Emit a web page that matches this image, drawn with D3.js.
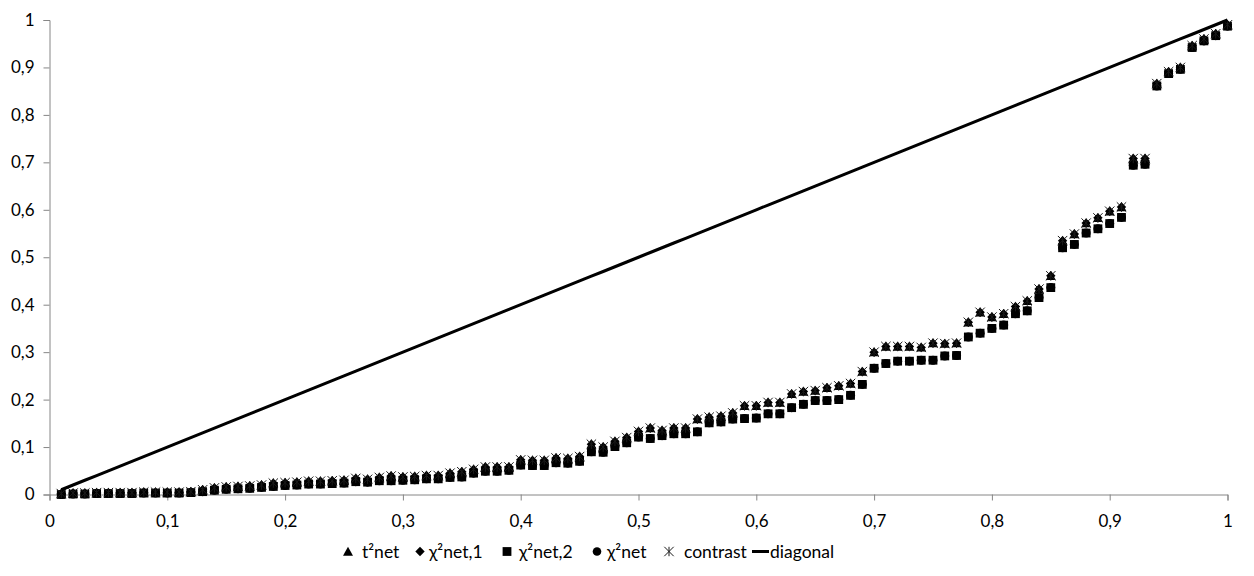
<!DOCTYPE html>
<html><head><meta charset="utf-8">
<script src="https://cdn.jsdelivr.net/npm/d3@7"></script>
<style>body{margin:0;background:#fff}text{font-family:Lato,"Open Sans",sans-serif}</style>
</head><body>
<svg id="chart" width="1254" height="576"></svg>
<script>
const xValues = [0.01,0.02,0.03,0.04,0.05,0.06,0.07,0.08,0.09,0.10,0.11,0.12,0.13,0.14,0.15,0.16,0.17,0.18,0.19,0.20,
0.21,0.22,0.23,0.24,0.25,0.26,0.27,0.28,0.29,0.30,0.31,0.32,0.33,0.34,0.35,0.36,0.37,0.38,0.39,0.40,
0.41,0.42,0.43,0.44,0.45,0.46,0.47,0.48,0.49,0.50,0.51,0.52,0.53,0.54,0.55,0.56,0.57,0.58,0.59,0.60,
0.61,0.62,0.63,0.64,0.65,0.66,0.67,0.68,0.69,0.70,0.71,0.72,0.73,0.74,0.75,0.76,0.77,0.78,0.79,0.80,
0.81,0.82,0.83,0.84,0.85,0.86,0.87,0.88,0.89,0.90,0.91,0.92,0.93,0.94,0.95,0.96,0.97,0.98,0.99,1.00];

const t2net = [0.002,0.003,0.003,0.004,0.004,0.004,0.004,0.005,0.005,0.005,0.005,0.006,0.010,0.014,0.016,0.017,0.018,0.020,0.024,0.025,
0.026,0.028,0.028,0.029,0.030,0.034,0.032,0.036,0.039,0.037,0.038,0.040,0.040,0.045,0.048,0.053,0.058,0.058,0.058,0.073,
0.072,0.072,0.077,0.076,0.080,0.106,0.100,0.112,0.120,0.133,0.140,0.135,0.140,0.140,0.159,0.163,0.165,0.172,0.187,0.187,
0.194,0.194,0.212,0.217,0.219,0.225,0.229,0.234,0.259,0.300,0.312,0.312,0.312,0.310,0.319,0.318,0.319,0.363,0.384,0.374,
0.381,0.396,0.408,0.433,0.461,0.535,0.549,0.572,0.583,0.597,0.606,0.708,0.708,0.866,0.891,0.900,0.946,0.960,0.971,0.990];

const chi2net1 = [0.002,0.003,0.003,0.004,0.004,0.004,0.004,0.005,0.005,0.005,0.005,0.006,0.010,0.014,0.016,0.017,0.018,0.020,0.024,0.025,
0.026,0.028,0.028,0.029,0.030,0.034,0.032,0.036,0.039,0.037,0.038,0.040,0.040,0.045,0.048,0.053,0.058,0.058,0.058,0.073,
0.072,0.072,0.077,0.076,0.080,0.106,0.100,0.112,0.120,0.133,0.140,0.135,0.140,0.140,0.159,0.163,0.165,0.172,0.187,0.187,
0.194,0.194,0.212,0.217,0.219,0.225,0.229,0.234,0.259,0.300,0.312,0.312,0.312,0.310,0.319,0.318,0.319,0.363,0.384,0.374,
0.381,0.396,0.408,0.433,0.461,0.535,0.549,0.572,0.583,0.597,0.606,0.708,0.708,0.866,0.891,0.900,0.946,0.960,0.971,0.990];

const chi2net2 = [0.000,0.001,0.001,0.002,0.002,0.002,0.002,0.003,0.003,0.003,0.003,0.004,0.006,0.009,0.011,0.012,0.013,0.015,0.017,0.019,
0.020,0.022,0.022,0.023,0.024,0.027,0.026,0.029,0.029,0.030,0.031,0.033,0.033,0.036,0.037,0.045,0.049,0.049,0.051,0.062,
0.061,0.061,0.067,0.066,0.070,0.090,0.089,0.101,0.109,0.121,0.118,0.124,0.128,0.128,0.132,0.151,0.153,0.159,0.160,0.161,
0.170,0.170,0.183,0.190,0.198,0.198,0.200,0.209,0.232,0.266,0.276,0.281,0.281,0.283,0.283,0.292,0.293,0.332,0.340,0.350,
0.357,0.381,0.387,0.415,0.436,0.520,0.527,0.551,0.560,0.571,0.584,0.694,0.696,0.861,0.887,0.896,0.942,0.956,0.967,0.987];

const chi2net = [0.000,0.001,0.001,0.002,0.002,0.002,0.002,0.003,0.003,0.003,0.003,0.004,0.006,0.009,0.011,0.012,0.013,0.015,0.017,0.019,
0.020,0.022,0.022,0.023,0.024,0.027,0.026,0.029,0.029,0.030,0.031,0.033,0.033,0.036,0.037,0.045,0.049,0.049,0.051,0.062,
0.061,0.061,0.067,0.066,0.070,0.090,0.089,0.101,0.109,0.121,0.118,0.124,0.128,0.128,0.132,0.151,0.153,0.159,0.160,0.161,
0.170,0.170,0.183,0.190,0.198,0.198,0.200,0.209,0.232,0.266,0.276,0.281,0.281,0.283,0.283,0.292,0.293,0.332,0.340,0.350,
0.357,0.381,0.387,0.415,0.436,0.520,0.527,0.551,0.560,0.571,0.584,0.694,0.696,0.861,0.887,0.896,0.942,0.956,0.967,0.987];

const contrast = [0.002,0.003,0.003,0.004,0.004,0.004,0.004,0.005,0.005,0.005,0.005,0.006,0.010,0.014,0.016,0.017,0.018,0.020,0.024,0.025,
0.026,0.028,0.028,0.029,0.030,0.034,0.032,0.036,0.039,0.037,0.038,0.040,0.040,0.045,0.048,0.053,0.058,0.058,0.058,0.073,
0.072,0.072,0.077,0.076,0.080,0.106,0.100,0.112,0.120,0.133,0.140,0.135,0.140,0.140,0.159,0.163,0.165,0.172,0.187,0.187,
0.194,0.194,0.212,0.217,0.219,0.225,0.229,0.234,0.259,0.300,0.312,0.312,0.312,0.310,0.319,0.318,0.319,0.363,0.384,0.374,
0.381,0.396,0.408,0.433,0.461,0.535,0.549,0.572,0.583,0.597,0.606,0.708,0.708,0.866,0.891,0.900,0.946,0.960,0.971,0.990];

const diagonal = [0.01,0.02,0.03,0.04,0.05,0.06,0.07,0.08,0.09,0.10,0.11,0.12,0.13,0.14,0.15,0.16,0.17,0.18,0.19,0.20,
0.21,0.22,0.23,0.24,0.25,0.26,0.27,0.28,0.29,0.30,0.31,0.32,0.33,0.34,0.35,0.36,0.37,0.38,0.39,0.40,
0.41,0.42,0.43,0.44,0.45,0.46,0.47,0.48,0.49,0.50,0.51,0.52,0.53,0.54,0.55,0.56,0.57,0.58,0.59,0.60,
0.61,0.62,0.63,0.64,0.65,0.66,0.67,0.68,0.69,0.70,0.71,0.72,0.73,0.74,0.75,0.76,0.77,0.78,0.79,0.80,
0.81,0.82,0.83,0.84,0.85,0.86,0.87,0.88,0.89,0.90,0.91,0.92,0.93,0.94,0.95,0.96,0.97,0.98,0.99,1.00];

const xTicks = [0,0.1,0.2,0.3,0.4,0.5,0.6,0.7,0.8,0.9,1];
const xTickLabels = ["0","0,1","0,2","0,3","0,4","0,5","0,6","0,7","0,8","0,9","1"];
const yTicks = [0,0.1,0.2,0.3,0.4,0.5,0.6,0.7,0.8,0.9,1];
const yTickLabels = ["0","0,1","0,2","0,3","0,4","0,5","0,6","0,7","0,8","0,9","1"];
const seriesNames = ["t²net","χ²net,1","χ²net,2","χ²net","contrast","diagonal"];

const svg = d3.select("#chart");
const x = d3.scaleLinear().domain([0,1]).range([49.5,1227.5]);
const y = d3.scaleLinear().domain([0,1]).range([494.5,20]);
const AX = "#868686";

// axes
const gx = svg.append("g").attr("transform","translate(0,494.5)")
  .call(d3.axisBottom(x).tickValues(xTicks).tickFormat((d,i)=>xTickLabels[i]).tickSizeOuter(0).tickSize(6).tickPadding(14));
const gy = svg.append("g").attr("transform","translate(49.5,0)")
  .call(d3.axisLeft(y).tickValues(yTicks).tickFormat((d,i)=>yTickLabels[i]).tickSizeOuter(0).tickSize(6).tickPadding(9));
[gx,gy].forEach(g=>{
  g.select(".domain").attr("stroke",AX);
  g.selectAll(".tick line").attr("stroke",AX);
  g.selectAll(".tick text").attr("fill","#000").style("font-size","17px").style("font-family","Lato, 'Open Sans', sans-serif");
});

const S = 4.7;
const shapes = {
  tri: `M0,${-S} L${S+0.3},${S-0.5} L${-S-0.3},${S-0.5} Z`,
  dia: `M0,${-S} L${S},0 L0,${S} L${-S},0 Z`,
  sq: `M${-S+0.3},${-S+0.3} h${2*S-0.6} v${2*S-0.6} h${-2*S+0.6} Z`,
  ast: `M${-S},${-S} L${S},${S} M${-S},${S} L${S},${-S} M0,${-S} L0,${S}`
};

function drawMarkers(vals, kind){
  const g = svg.append("g");
  const data = xValues.map((xv,i)=>[xv, vals[i]]);
  if(kind==="circ"){
    g.selectAll("circle").data(data).join("circle")
      .attr("cx",d=>x(d[0])).attr("cy",d=>y(d[1])).attr("r",S-0.2).attr("fill","#000");
  } else if(kind==="ast"){
    g.selectAll("path").data(data).join("path")
      .attr("transform",d=>`translate(${x(d[0])},${y(d[1])})`).attr("d",shapes.ast)
      .attr("fill","none").attr("stroke","#1a1a1a").attr("stroke-width",1);
  } else {
    g.selectAll("path").data(data).join("path")
      .attr("transform",d=>`translate(${x(d[0])},${y(d[1])})`).attr("d",shapes[kind]).attr("fill","#000");
  }
}
drawMarkers(t2net,"tri");
drawMarkers(chi2net1,"dia");
drawMarkers(chi2net2,"sq");
drawMarkers(chi2net,"circ");
drawMarkers(contrast,"ast");

// diagonal
svg.append("path").datum(xValues.map((xv,i)=>[xv,diagonal[i]]))
  .attr("d",d3.line().x(d=>x(d[0])).y(d=>y(d[1])))
  .attr("fill","none").attr("stroke","#000").attr("stroke-width",3).attr("stroke-linejoin","round");

// legend
const ly = 551.5;
const legend = [
  {kind:"tri", mx:348, tx:362},
  {kind:"dia", mx:420, tx:429},
  {kind:"sq", mx:507, tx:519},
  {kind:"circ", mx:597, tx:607},
  {kind:"ast", mx:669, tx:684},
  {kind:"line", mx:760, tx:770}
];
legend.forEach((l,i)=>{
  const g = svg.append("g");
  if(l.kind==="circ") g.append("circle").attr("cx",l.mx).attr("cy",ly).attr("r",S-0.4).attr("fill","#000");
  else if(l.kind==="ast") g.append("path").attr("transform",`translate(${l.mx},${ly})`).attr("d",shapes.ast).attr("fill","none").attr("stroke","#1a1a1a");
  else if(l.kind==="line") g.append("line").attr("x1",752).attr("x2",769).attr("y1",ly).attr("y2",ly).attr("stroke","#000").attr("stroke-width",3);
  else g.append("path").attr("transform",`translate(${l.mx},${ly})`).attr("d",shapes[l.kind]).attr("fill","#000");
  g.append("text").attr("x",l.tx).attr("y",ly).attr("dy","0.35em").attr("font-size","17.5px").attr("fill","#000").text(seriesNames[i]);
});
</script>
</body></html>
